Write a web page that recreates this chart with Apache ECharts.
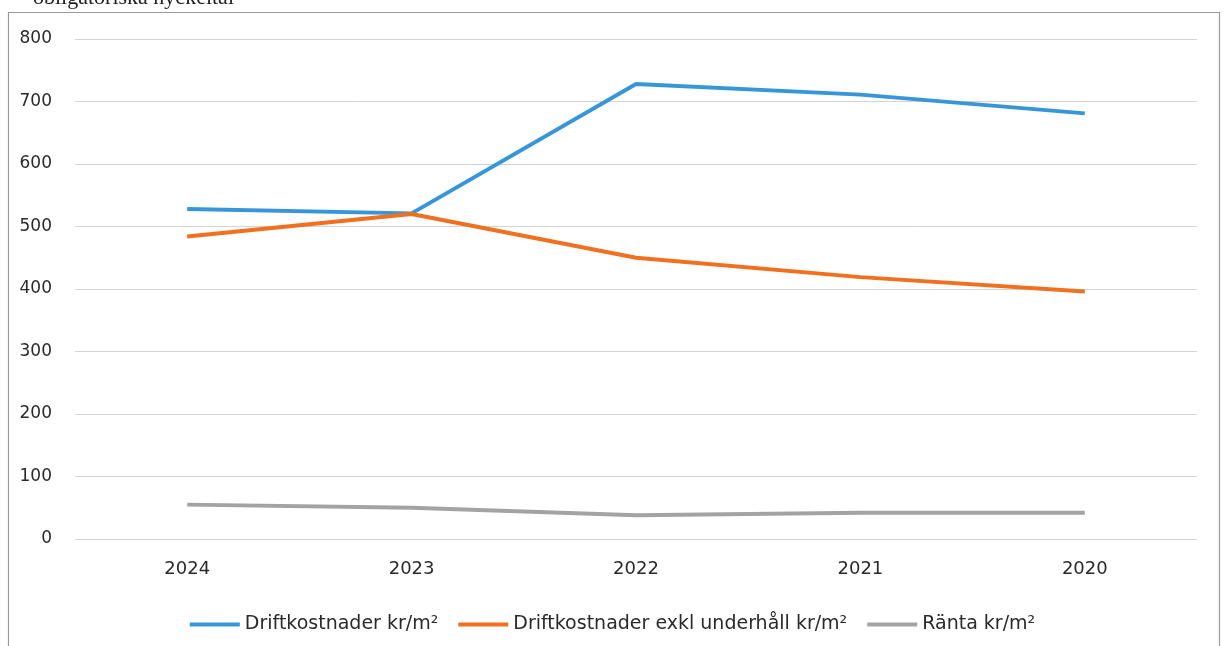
<!DOCTYPE html>
<html>
<head>
<meta charset="utf-8">
<script src="https://cdn.jsdelivr.net/npm/echarts@6/dist/echarts.min.js"></script>
<style>html,body{margin:0;padding:0;background:#fff;}#c{width:1225px;height:646px;}</style>
</head>
<body>
<div id="c"></div>
<script>
const categories = ['2024', '2023', '2022', '2021', '2020'];
const driftkostnader = [528, 521, 728, 711, 681];
const driftExklUnderhall = [484, 520, 450, 419, 396];
const ranta = [55, 50, 38, 42, 42];
const yTicks = [0, 800, 100];

const chart = echarts.init(document.getElementById('c'));
const font = '"DejaVu Sans", sans-serif';
chart.setOption({
  animation: false,
  backgroundColor: '#fff',
  graphic: [
    { type: 'rect', shape: { x: 8.5, y: 12.5, width: 1211, height: 700 }, style: { fill: 'none', stroke: '#9a9a9a', lineWidth: 1.2 } },
    { type: 'text', left: 33, top: -13, style: { text: 'obligatoriska nyckeltal', font: '22px "Liberation Serif", "DejaVu Serif", serif', fill: '#222' } }
  ],
  grid: { left: 75, right: 28, top: 39, bottom: 107, containLabel: false },
  legend: {
    top: 610,
    left: 'center',
    itemWidth: 50,
    itemHeight: 4,
    itemGap: 20,
    icon: 'rect',
    textStyle: { fontFamily: font, fontSize: 19, color: '#2a2a2a' },
    data: ['Driftkostnader kr/m²', 'Driftkostnader exkl underhåll kr/m²', 'Ränta kr/m²']
  },
  xAxis: {
    type: 'category',
    data: categories,
    boundaryGap: true,
    axisLine: { show: false },
    axisTick: { show: false },
    axisLabel: { fontFamily: font, fontSize: 18, color: '#2a2a2a', margin: 21 }
  },
  yAxis: {
    type: 'value',
    min: yTicks[0], max: yTicks[1], interval: yTicks[2],
    axisLine: { show: false },
    axisTick: { show: false },
    axisLabel: { fontFamily: font, fontSize: 17, color: '#2a2a2a', margin: 23 },
    splitLine: { lineStyle: { color: '#d4d4d4', width: 1 } }
  },
  series: [
    { name: 'Driftkostnader kr/m²', type: 'line', data: driftkostnader, symbol: 'none', lineStyle: { color: '#3796da', width: 4 }, itemStyle: { color: '#3796da' } },
    { name: 'Driftkostnader exkl underhåll kr/m²', type: 'line', data: driftExklUnderhall, symbol: 'none', lineStyle: { color: '#f0701e', width: 4 }, itemStyle: { color: '#f0701e' } },
    { name: 'Ränta kr/m²', type: 'line', data: ranta, symbol: 'none', lineStyle: { color: '#a3a3a6', width: 4 }, itemStyle: { color: '#a3a3a6' } }
  ]
});
</script>
</body>
</html>
